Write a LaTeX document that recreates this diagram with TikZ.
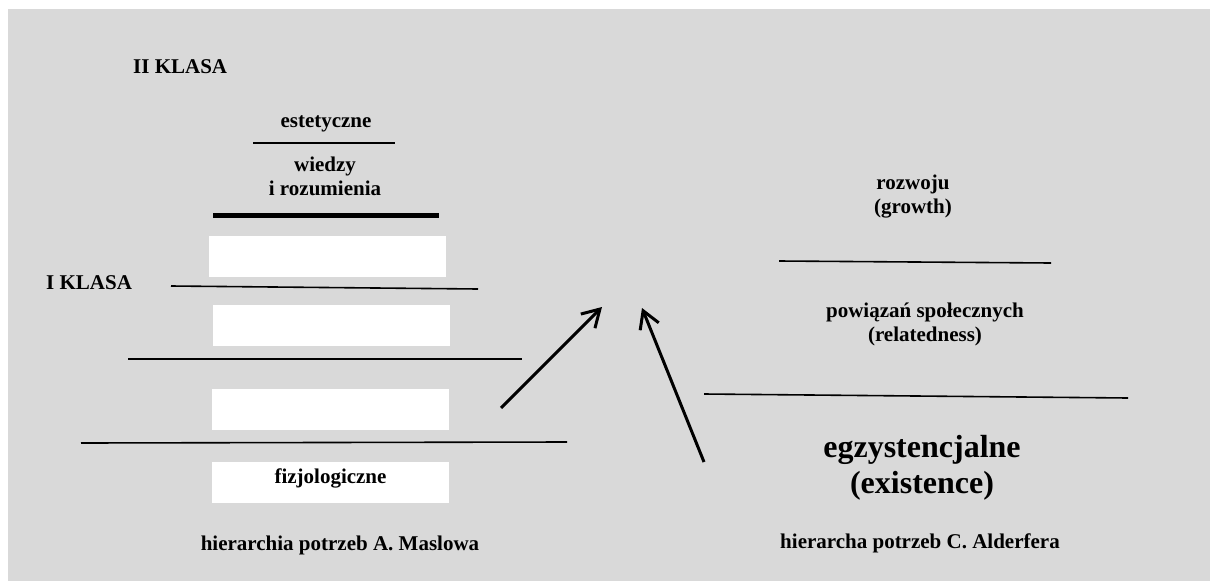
\documentclass[tikz,border=0pt]{standalone}
\usepackage{fontspec}
\setmainfont{Liberation Serif}
\usetikzlibrary{arrows.meta}
\definecolor{bggray}{HTML}{D9D9D9}
\tikzset{
  txt/.style={inner sep=0pt, anchor=base, align=center, font=\bfseries\fontsize{21}{24}\selectfont},
  bigtxt/.style={inner sep=0pt, anchor=base, align=center, font=\bfseries\fontsize{32}{36}\selectfont},
  levelline/.style={line width=1.6pt},
  thickline/.style={line width=5pt},
  whitebox/.style={fill=white, draw=none, inner sep=0pt, minimum width=237pt, minimum height=41pt},
  arrowline/.style={line width=3pt, -{Straight Barb[length=17pt,width=20pt,line width=3pt]}}
}
\begin{document}
\begin{tikzpicture}[x=1pt,y=-1pt]
\useasboundingbox (0,0) rectangle (1210,581);
\fill[white] (0,0) rectangle (1210,581);
\fill[bggray] (8,9) rectangle (1210,581);

% Maslow side
\node[txt, anchor=base west] (klasa2) at (133,73) {II KLASA};
\node[txt, anchor=base west] (klasa1) at (46,289) {I KLASA};
\node[txt] (estet) at (326,127) {estetyczne};
\node[txt] (wiedzy) at (325,195) {wiedzy\\i rozumienia};

\draw[levelline] (253,143) -- (395,143);
\draw[thickline] (213,215) -- (439,215);

\node[whitebox] (box1) at (327.5,256) {};
\node[whitebox] (box2) at (331.5,325.5) {};
\node[whitebox] (box3) at (330.5,409.5) {};
\node[whitebox] (box4) at (330.5,482.5) {};
\node[txt] (fizjo) at (330.5,483) {fizjologiczne};

\draw[levelline] (171,286) -- (478,289);
\draw[levelline] (128,359) -- (522,359);
\draw[levelline] (81,443) -- (567,442);

\node[txt] (maslow) at (340,550) {hierarchia potrzeb A. Maslowa};

% Alderfer side
\node[txt] (growth) at (913,213) {rozwoju\\(growth)};
\node[txt] (related) at (925,341) {powiązań społecznych\\(relatedness)};
\node[bigtxt] (exist) at (922,493) {egzystencjalne\\(existence)};
\draw[levelline] (779,261) -- (1051,263);
\draw[levelline] (704,394) -- (1128,398);
\node[txt] (alderfer) at (920,548) {hierarcha potrzeb C. Alderfera};

% arrows
\coordinate (a1s) at (501,408);
\coordinate (a1e) at (602,307);
\coordinate (a2s) at (704,462);
\coordinate (a2e) at (642,308);
\draw[arrowline] (a1s) -- (a1e);
\draw[arrowline] (a2s) -- (a2e);
\end{tikzpicture}
\end{document}
